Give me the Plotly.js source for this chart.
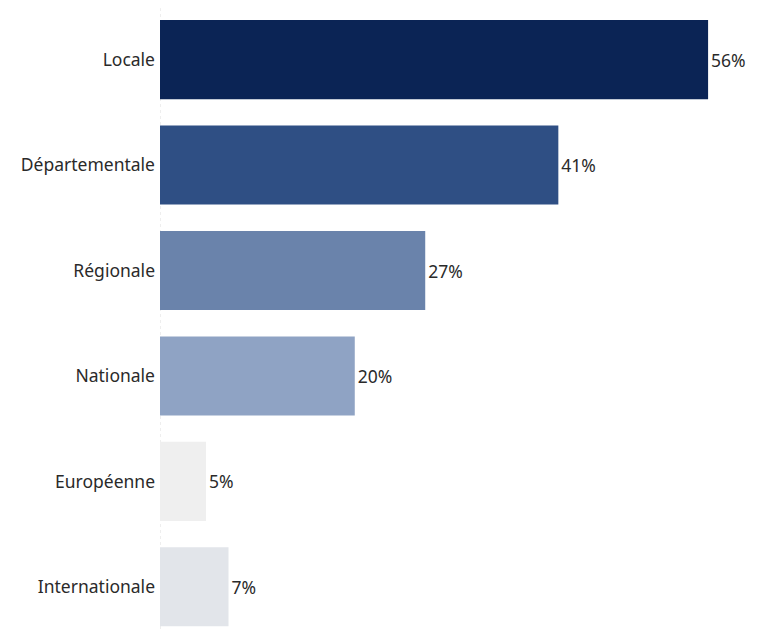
<!DOCTYPE html>
<html>
<head>
<meta charset="utf-8">
<script src="https://cdn.plot.ly/plotly-3.0.1.min.js"></script>
<style>html,body{margin:0;padding:0;background:#fff;}#chart{width:758px;height:629px;}</style>
</head>
<body>
<div id="chart"></div>
<script>
const categories = ["Locale", "Départementale", "Régionale", "Nationale", "Européenne", "Internationale"];
const values = [56, 40.7, 27.1, 19.9, 4.7, 7];
const labels = ["56%", "41%", "27%", "20%", "5%", "7%"];
const colors = ["#0b2455", "#2f4f84", "#6a83ab", "#8fa3c4", "#efefef", "#e2e5ea"];

const trace = {
  type: "bar",
  orientation: "h",
  y: categories,
  x: values,
  text: labels,
  textposition: "outside",
  cliponaxis: false,
  textfont: {family: "Noto Sans, Open Sans, sans-serif", size: 17.5, color: "#2a2a2a"},
  marker: {color: colors},
  hoverinfo: "none"
};

const layout = {
  width: 758,
  height: 629,
  margin: {l: 160, r: 0, t: 5, b: 0},
  paper_bgcolor: "#ffffff",
  plot_bgcolor: "#ffffff",
  bargap: 0.25,
  showlegend: false,
  xaxis: {range: [0, 61.1], visible: false, fixedrange: true},
  yaxis: {
    range: [5.40, -0.518],
    showgrid: false,
    zeroline: false,
    showline: false,
    ticks: "",
    ticklabelstandoff: 4,
    tickfont: {family: "Noto Sans, Open Sans, sans-serif", size: 17.5, color: "#2a2a2a"}
  },
  shapes: [{
    type: "line", xref: "x", yref: "paper",
    x0: 0, x1: 0, y0: 0, y1: 0.995,
    line: {color: "#dddddd", width: 1, dash: "dot"},
    layer: "below"
  }]
};

Plotly.newPlot("chart", [trace], layout, {displayModeBar: false, staticPlot: true});
</script>
</body>
</html>
